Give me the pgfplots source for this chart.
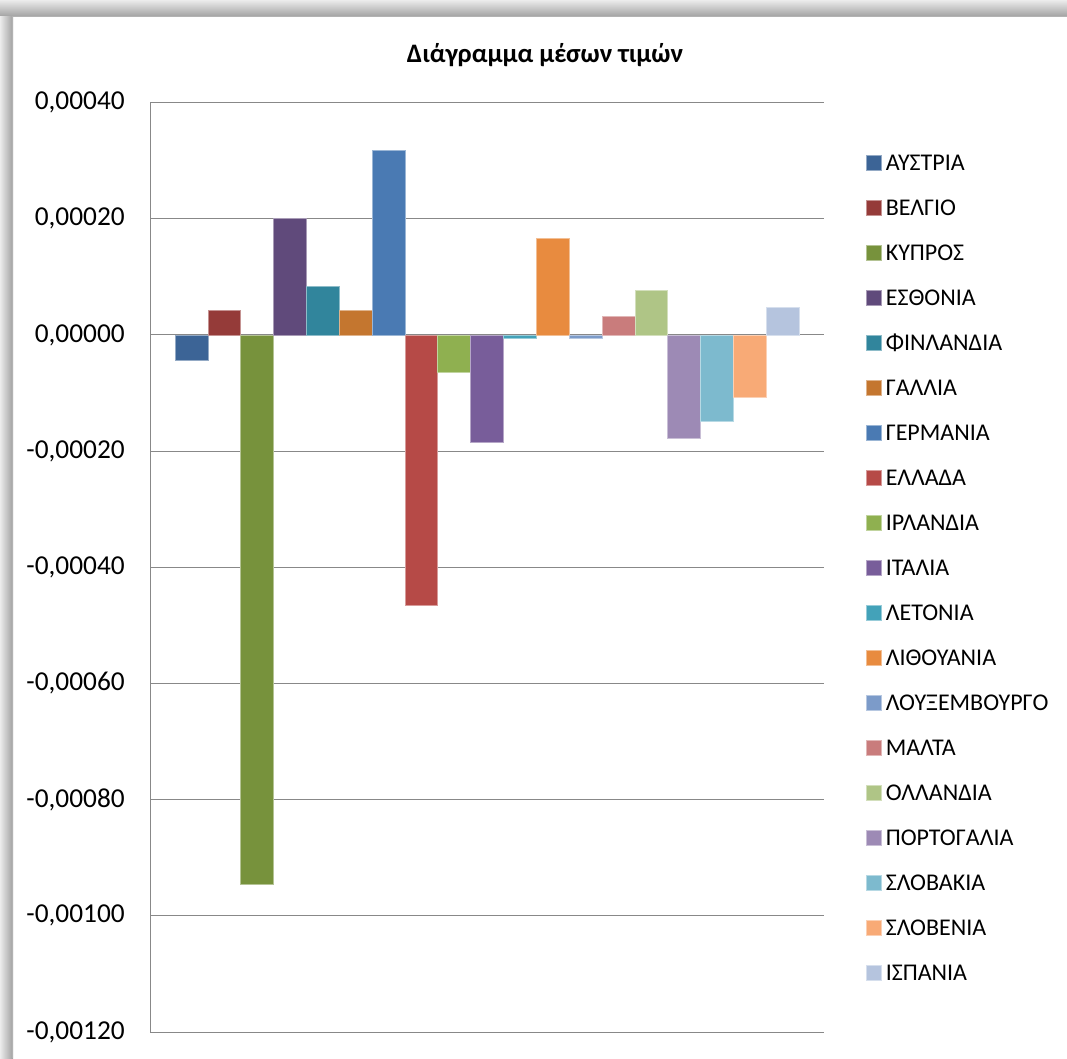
\documentclass[border=0pt]{standalone}
\usepackage{fontspec}
\setmainfont{Carlito}
\usepackage{pgfplots}
\pgfplotsset{compat=1.18}

\definecolor{c01}{HTML}{3C6496}
\definecolor{c02}{HTML}{953B39}
\definecolor{c03}{HTML}{77923C}
\definecolor{c04}{HTML}{604A7B}
\definecolor{c05}{HTML}{31859C}
\definecolor{c06}{HTML}{C4762F}
\definecolor{c07}{HTML}{4A7AB3}
\definecolor{c08}{HTML}{B64A47}
\definecolor{c09}{HTML}{8FB050}
\definecolor{c10}{HTML}{785D9A}
\definecolor{c11}{HTML}{43A2B9}
\definecolor{c12}{HTML}{E88B3F}
\definecolor{c13}{HTML}{7C9BC9}
\definecolor{c14}{HTML}{C97C7C}
\definecolor{c15}{HTML}{AFC586}
\definecolor{c16}{HTML}{9D8AB5}
\definecolor{c17}{HTML}{7DBACE}
\definecolor{c18}{HTML}{F8AA76}
\definecolor{c19}{HTML}{B5C4DE}
\definecolor{gridgray}{HTML}{888888}

\pgfplotsset{
  cbar/.style={fill=#1, draw=#1!55!white, line width=0.4pt},
}

\begin{document}
\begin{tikzpicture}
% page frame with shadow along the top and left edges
\path[use as bounding box] (0pt,0pt) rectangle (800.25pt,793.5pt);
\fill[white] (0pt,0pt) rectangle (800.25pt,793.5pt);
\shade[top color=gray!15, bottom color=gray!75] (0pt,780.75pt) rectangle (800.25pt,793.5pt);
\shade[left color=gray!15, right color=gray!75] (0pt,0pt) rectangle (9.75pt,780.75pt);
\fill[gray!60] (9pt,0pt) rectangle (9.75pt,780.75pt);
\fill[gray!60] (9pt,780.75pt) rectangle (800.25pt,781.5pt);

\node[font=\fontsize{20}{24}\selectfont\bfseries] at (408.75pt,752.25pt) {Διάγραμμα μέσων τιμών};

\begin{axis}[
  at={(112.5pt,19.5pt)}, anchor=south west,
  scale only axis, width=505.5pt, height=697.1pt,
  ybar, bar width=1, bar shift=0pt,
  xmin=-1.261, xmax=19.261,
  ymin=-0.0012, ymax=0.0004,
  axis x line=none,
  axis y line*=left,
  y axis line style={draw=gridgray, line width=0.75pt},
  ymajorgrids, grid style={draw=gridgray, line width=0.75pt},
  major tick length=0pt,
  scaled y ticks=false,
  ytick={-0.0012,-0.001,-0.0008,-0.0006,-0.0004,-0.0002,0,0.0002,0.0004},
  yticklabels={-0{,}00120,-0{,}00100,-0{,}00080,-0{,}00060,-0{,}00040,-0{,}00020,0{,}00000,0{,}00020,0{,}00040},
  yticklabel style={font=\fontsize{20.5}{24}\selectfont, anchor=east, inner sep=0pt, xshift=-18.75pt},
  legend style={at={(1.0623,0.9435)}, anchor=north west, draw=none, fill=none,
    inner sep=0pt, row sep=0pt,
    font=\fontsize{18}{20}\selectfont,
    nodes={inner sep=0pt, text height=11.3pt, text depth=22.3pt, anchor=base west}},
  legend cell align=left,
  legend image code/.code={\fill[#1] (0pt,0pt) rectangle (11.25pt,11.25pt);},
]
\addplot[cbar=c01] coordinates {(0,-0.000044)};
\addplot[cbar=c02] coordinates {(1,0.000043)};
\addplot[cbar=c03] coordinates {(2,-0.000945)};
\addplot[cbar=c04] coordinates {(3,0.000200)};
\addplot[cbar=c05] coordinates {(4,0.000083)};
\addplot[cbar=c06] coordinates {(5,0.000043)};
\addplot[cbar=c07] coordinates {(6,0.000318)};
\addplot[cbar=c08] coordinates {(7,-0.000466)};
\addplot[cbar=c09] coordinates {(8,-0.000064)};
\addplot[cbar=c10] coordinates {(9,-0.000185)};
\addplot[cbar=c11] coordinates {(10,-0.000005)};
\addplot[cbar=c12] coordinates {(11,0.000166)};
\addplot[cbar=c13] coordinates {(12,-0.000005)};
\addplot[cbar=c14] coordinates {(13,0.000032)};
\addplot[cbar=c15] coordinates {(14,0.000076)};
\addplot[cbar=c16] coordinates {(15,-0.000178)};
\addplot[cbar=c17] coordinates {(16,-0.000149)};
\addplot[cbar=c18] coordinates {(17,-0.000107)};
\addplot[cbar=c19] coordinates {(18,0.000047)};
\legend{\hspace{3pt}ΑΥΣΤΡΙΑ,\hspace{3pt}ΒΕΛΓΙΟ,\hspace{3pt}ΚΥΠΡΟΣ,\hspace{3pt}ΕΣΘΟΝΙΑ,\hspace{3pt}ΦΙΝΛΑΝΔΙΑ,\hspace{3pt}ΓΑΛΛΙΑ,\hspace{3pt}ΓΕΡΜΑΝΙΑ,\hspace{3pt}ΕΛΛΑΔΑ,\hspace{3pt}ΙΡΛΑΝΔΙΑ,\hspace{3pt}ΙΤΑΛΙΑ,\hspace{3pt}ΛΕΤΟΝΙΑ,\hspace{3pt}ΛΙΘΟΥΑΝΙΑ,\hspace{3pt}ΛΟΥΞΕΜΒΟΥΡΓΟ,\hspace{3pt}ΜΑΛΤΑ,\hspace{3pt}ΟΛΛΑΝΔΙΑ,\hspace{3pt}ΠΟΡΤΟΓΑΛΙΑ,\hspace{3pt}ΣΛΟΒΑΚΙΑ,\hspace{3pt}ΣΛΟΒΕΝΙΑ,\hspace{3pt}ΙΣΠΑΝΙΑ}
\end{axis}
\end{tikzpicture}
\end{document}
